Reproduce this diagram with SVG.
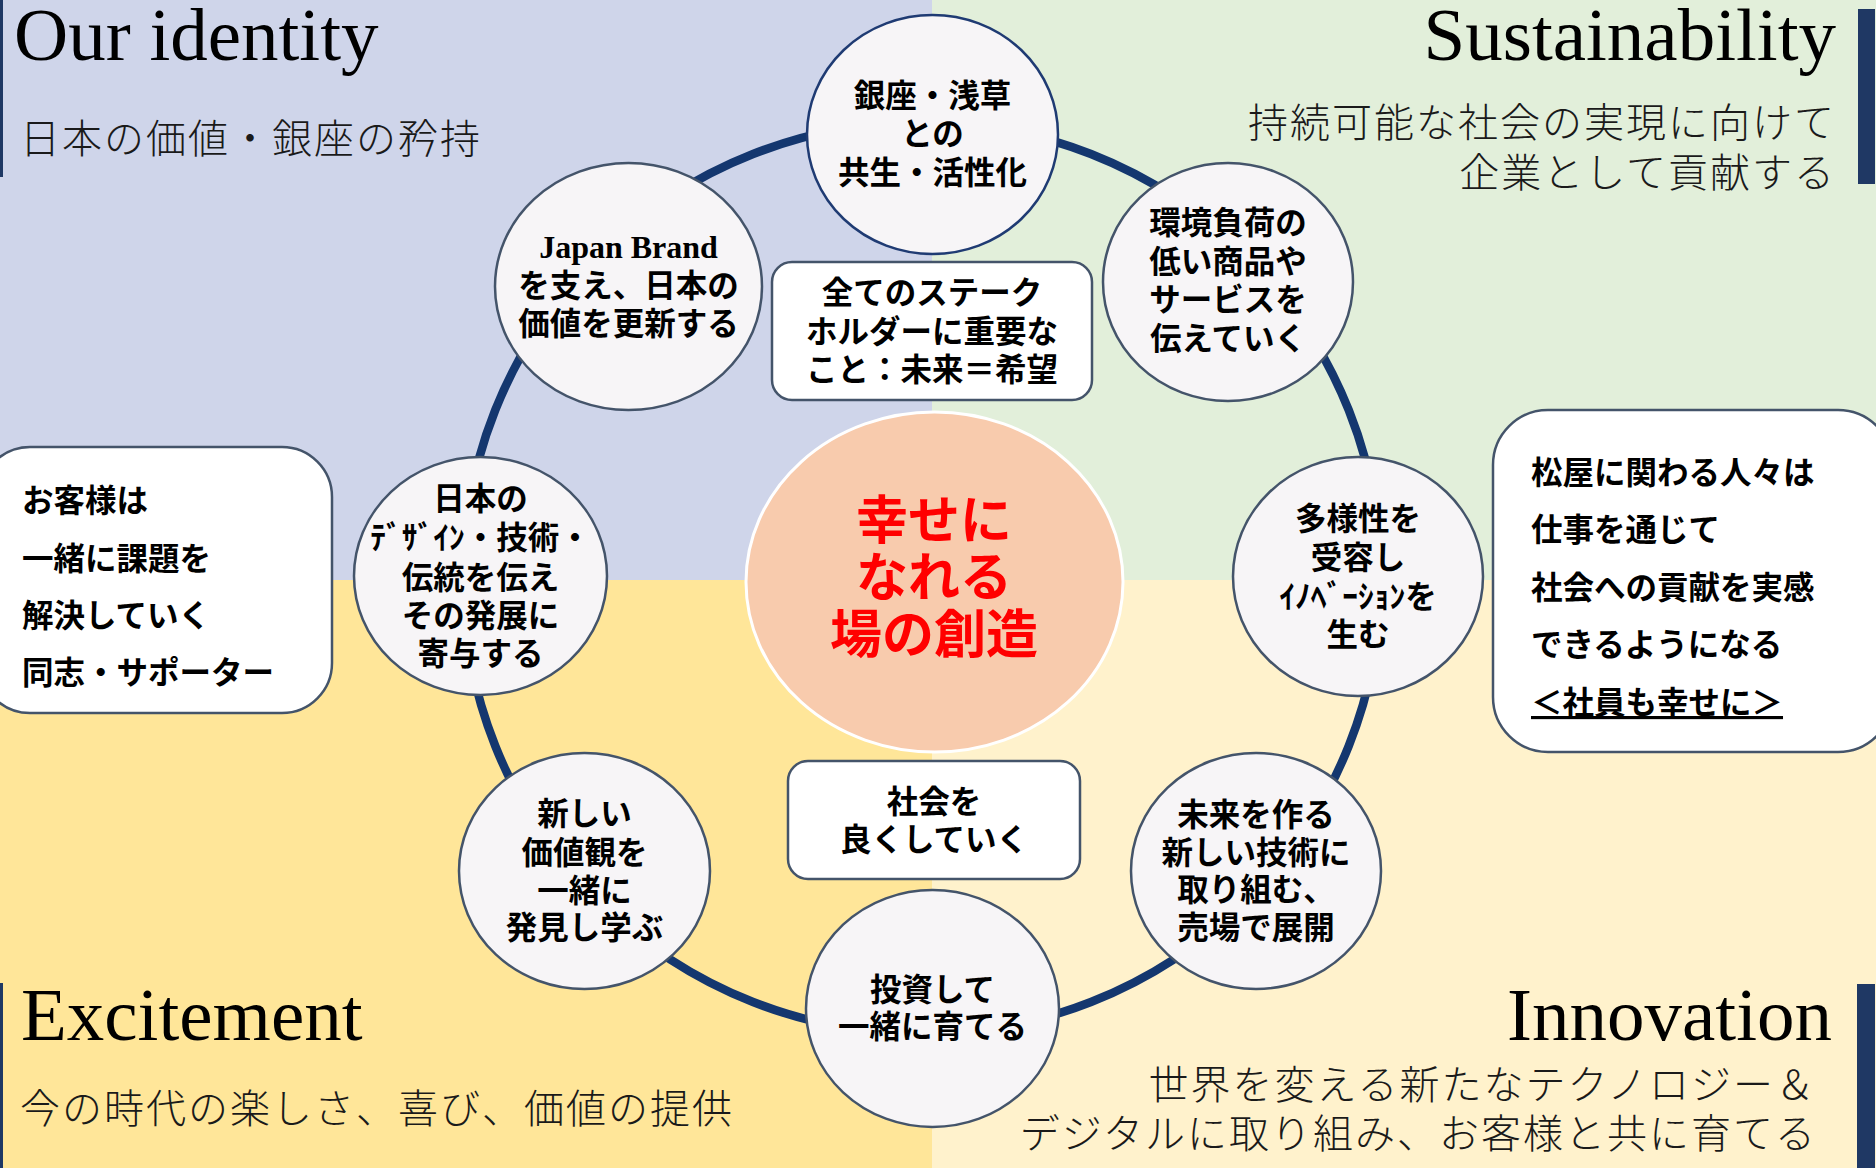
<svg xmlns="http://www.w3.org/2000/svg" width="1876" height="1168" viewBox="0 0 1876 1168">
<style>
.title{font-family:"Liberation Serif","Times New Roman",serif;font-size:75px;fill:#000}
.sub{font-family:"Noto Sans CJK JP",sans-serif;font-weight:300;font-size:40px;letter-spacing:2px;fill:#1A1A1A}
.node{fill:#F7F5F7;stroke:#44546A;stroke-width:2.5}
.nt{font-family:"Noto Sans CJK JP",sans-serif;font-weight:700;font-size:31.5px;fill:#000;text-anchor:middle}
.box{fill:#FFFFFF;stroke:#44546A;stroke-width:2.5}
.bt{font-family:"Noto Sans CJK JP",sans-serif;font-weight:700;font-size:31.5px;fill:#000}
.ring{fill:none;stroke:#14376F;stroke-width:8.5}
.bar{fill:#1F3864}
</style>
<g id="background">
<rect x="0" y="0" width="932" height="580" fill="#CFD5EA"/>
<rect x="932" y="0" width="944" height="580" fill="#E2EFDA"/>
<rect x="0" y="580" width="932" height="588" fill="#FFE699"/>
<rect x="932" y="580" width="944" height="588" fill="#FFF2CC"/>
<rect class="bar" x="0" y="0" width="3" height="177"/>
<rect class="bar" x="1858" y="9" width="17" height="175"/>
<rect class="bar" x="0" y="983" width="3" height="185"/>
<rect class="bar" x="1857" y="984" width="18" height="184"/>
</g>
<g id="headings">
<text class="title" x="14" y="60">Our identity</text>
<text class="sub" x="20" y="153">日本の価値・銀座の矜持</text>
<text class="title" x="1836" y="60" text-anchor="end">Sustainability</text>
<text class="sub" x="1836" y="137" text-anchor="end">持続可能な社会の実現に向けて</text>
<text class="sub" x="1836" y="187" text-anchor="end">企業として貢献する</text>
<text class="title" x="21" y="1040">Excitement</text>
<text class="sub" x="20" y="1123">今の時代の楽しさ、喜び、価値の提供</text>
<text class="title" x="1832" y="1040" text-anchor="end">Innovation</text>
<text class="sub" x="1817" y="1099" text-anchor="end">世界を変える新たなテクノロジー＆</text>
<text class="sub" x="1817" y="1148" text-anchor="end">デジタルに取り組み、お客様と共に育てる</text>
</g>
<g id="connectors">
<ellipse class="ring" cx="922" cy="578" rx="459" ry="456"/>
</g>
<g id="center">
<ellipse cx="934.5" cy="582" rx="188.5" ry="170" fill="#F8CBAD" stroke="#FFFFFF" stroke-width="3"/>
<text class="nt" x="934" y="539" style="font-size:52px;fill:#FF0000">幸せに</text>
<text class="nt" x="934" y="596" style="font-size:52px;fill:#FF0000">なれる</text>
<text class="nt" x="934" y="653" style="font-size:52px;fill:#FF0000">場の創造</text>
</g>
<g id="box-stakeholders">
<rect class="box" x="772" y="262" width="320" height="138" rx="20"/>
<text class="nt" x="932" y="304">全てのステーク</text>
<text class="nt" x="932" y="343">ホルダーに重要な</text>
<text class="nt" x="932" y="381">こと：未来＝希望</text>
</g>
<g id="box-society">
<rect class="box" x="788" y="761" width="292" height="118" rx="20"/>
<text class="nt" x="934" y="813">社会を</text>
<text class="nt" x="934" y="851">良くしていく</text>
</g>
<g id="box-customers">
<rect class="box" x="-20" y="447" width="352" height="266" rx="50"/>
<text class="bt" x="22" y="512">お客様は</text>
<text class="bt" x="22" y="570">一緒に課題を</text>
<text class="bt" x="22" y="627">解決していく</text>
<text class="bt" x="22" y="684">同志・サポーター</text>
</g>
<g id="box-employees">
<rect class="box" x="1493" y="410" width="400" height="342" rx="55"/>
<text class="bt" x="1531" y="484">松屋に関わる人々は</text>
<text class="bt" x="1531" y="541">仕事を通じて</text>
<text class="bt" x="1531" y="599">社会への貢献を実感</text>
<text class="bt" x="1531" y="656">できるようになる</text>
<text class="bt" x="1531" y="714" text-decoration="underline">＜社員も幸せに＞</text>
</g>
<g id="node-ginza">
<ellipse class="node" cx="932.5" cy="134.5" rx="125.5" ry="119.5" style="stroke:#1F3B73"/>
<text class="nt" x="932.5" y="107">銀座・浅草</text>
<text class="nt" x="932.5" y="145">との</text>
<text class="nt" x="932.5" y="184">共生・活性化</text>
</g>
<g id="node-environment">
<ellipse class="node" cx="1228" cy="282" rx="125" ry="119"/>
<text class="nt" x="1228" y="234">環境負荷の</text>
<text class="nt" x="1228" y="272.5">低い商品や</text>
<text class="nt" x="1228" y="311">サービスを</text>
<text class="nt" x="1228" y="349.5">伝えていく</text>
</g>
<g id="node-diversity">
<ellipse class="node" cx="1358" cy="576.5" rx="125" ry="119.5"/>
<text class="nt" x="1358" y="530">多様性を</text>
<text class="nt" x="1358" y="569">受容し</text>
<text class="nt" x="1358" y="608">ｲﾉﾍﾞｰｼｮﾝを</text>
<text class="nt" x="1358" y="646">生む</text>
</g>
<g id="node-technology">
<ellipse class="node" cx="1256" cy="871" rx="125" ry="118"/>
<text class="nt" x="1256" y="826">未来を作る</text>
<text class="nt" x="1256" y="864">新しい技術に</text>
<text class="nt" x="1256" y="901">取り組む、</text>
<text class="nt" x="1256" y="939">売場で展開</text>
</g>
<g id="node-invest">
<ellipse class="node" cx="932.5" cy="1008.5" rx="126.5" ry="118.5"/>
<text class="nt" x="932.5" y="1001">投資して</text>
<text class="nt" x="932.5" y="1038">一緒に育てる</text>
</g>
<g id="node-values">
<ellipse class="node" cx="584.5" cy="871" rx="125.5" ry="118"/>
<text class="nt" x="584.5" y="825">新しい</text>
<text class="nt" x="584.5" y="864">価値観を</text>
<text class="nt" x="584.5" y="902">一緒に</text>
<text class="nt" x="584.5" y="939">発見し学ぶ</text>
</g>
<g id="node-design">
<ellipse class="node" cx="480.5" cy="576" rx="126.5" ry="119"/>
<text class="nt" x="480.5" y="510">日本の</text>
<text class="nt" x="480.5" y="549">ﾃﾞｻﾞｲﾝ・技術・</text>
<text class="nt" x="480.5" y="589">伝統を伝え</text>
<text class="nt" x="480.5" y="627">その発展に</text>
<text class="nt" x="480.5" y="665">寄与する</text>
</g>
<g id="node-japanbrand">
<ellipse class="node" cx="628.5" cy="286.5" rx="133.5" ry="123.5"/>
<text class="nt" x="628.5" y="258" style="font-family:'Liberation Serif','Times New Roman',serif;font-size:32px">Japan Brand</text>
<text class="nt" x="628.5" y="297">を支え、日本の</text>
<text class="nt" x="628.5" y="335">価値を更新する</text>
</g>
</svg>
